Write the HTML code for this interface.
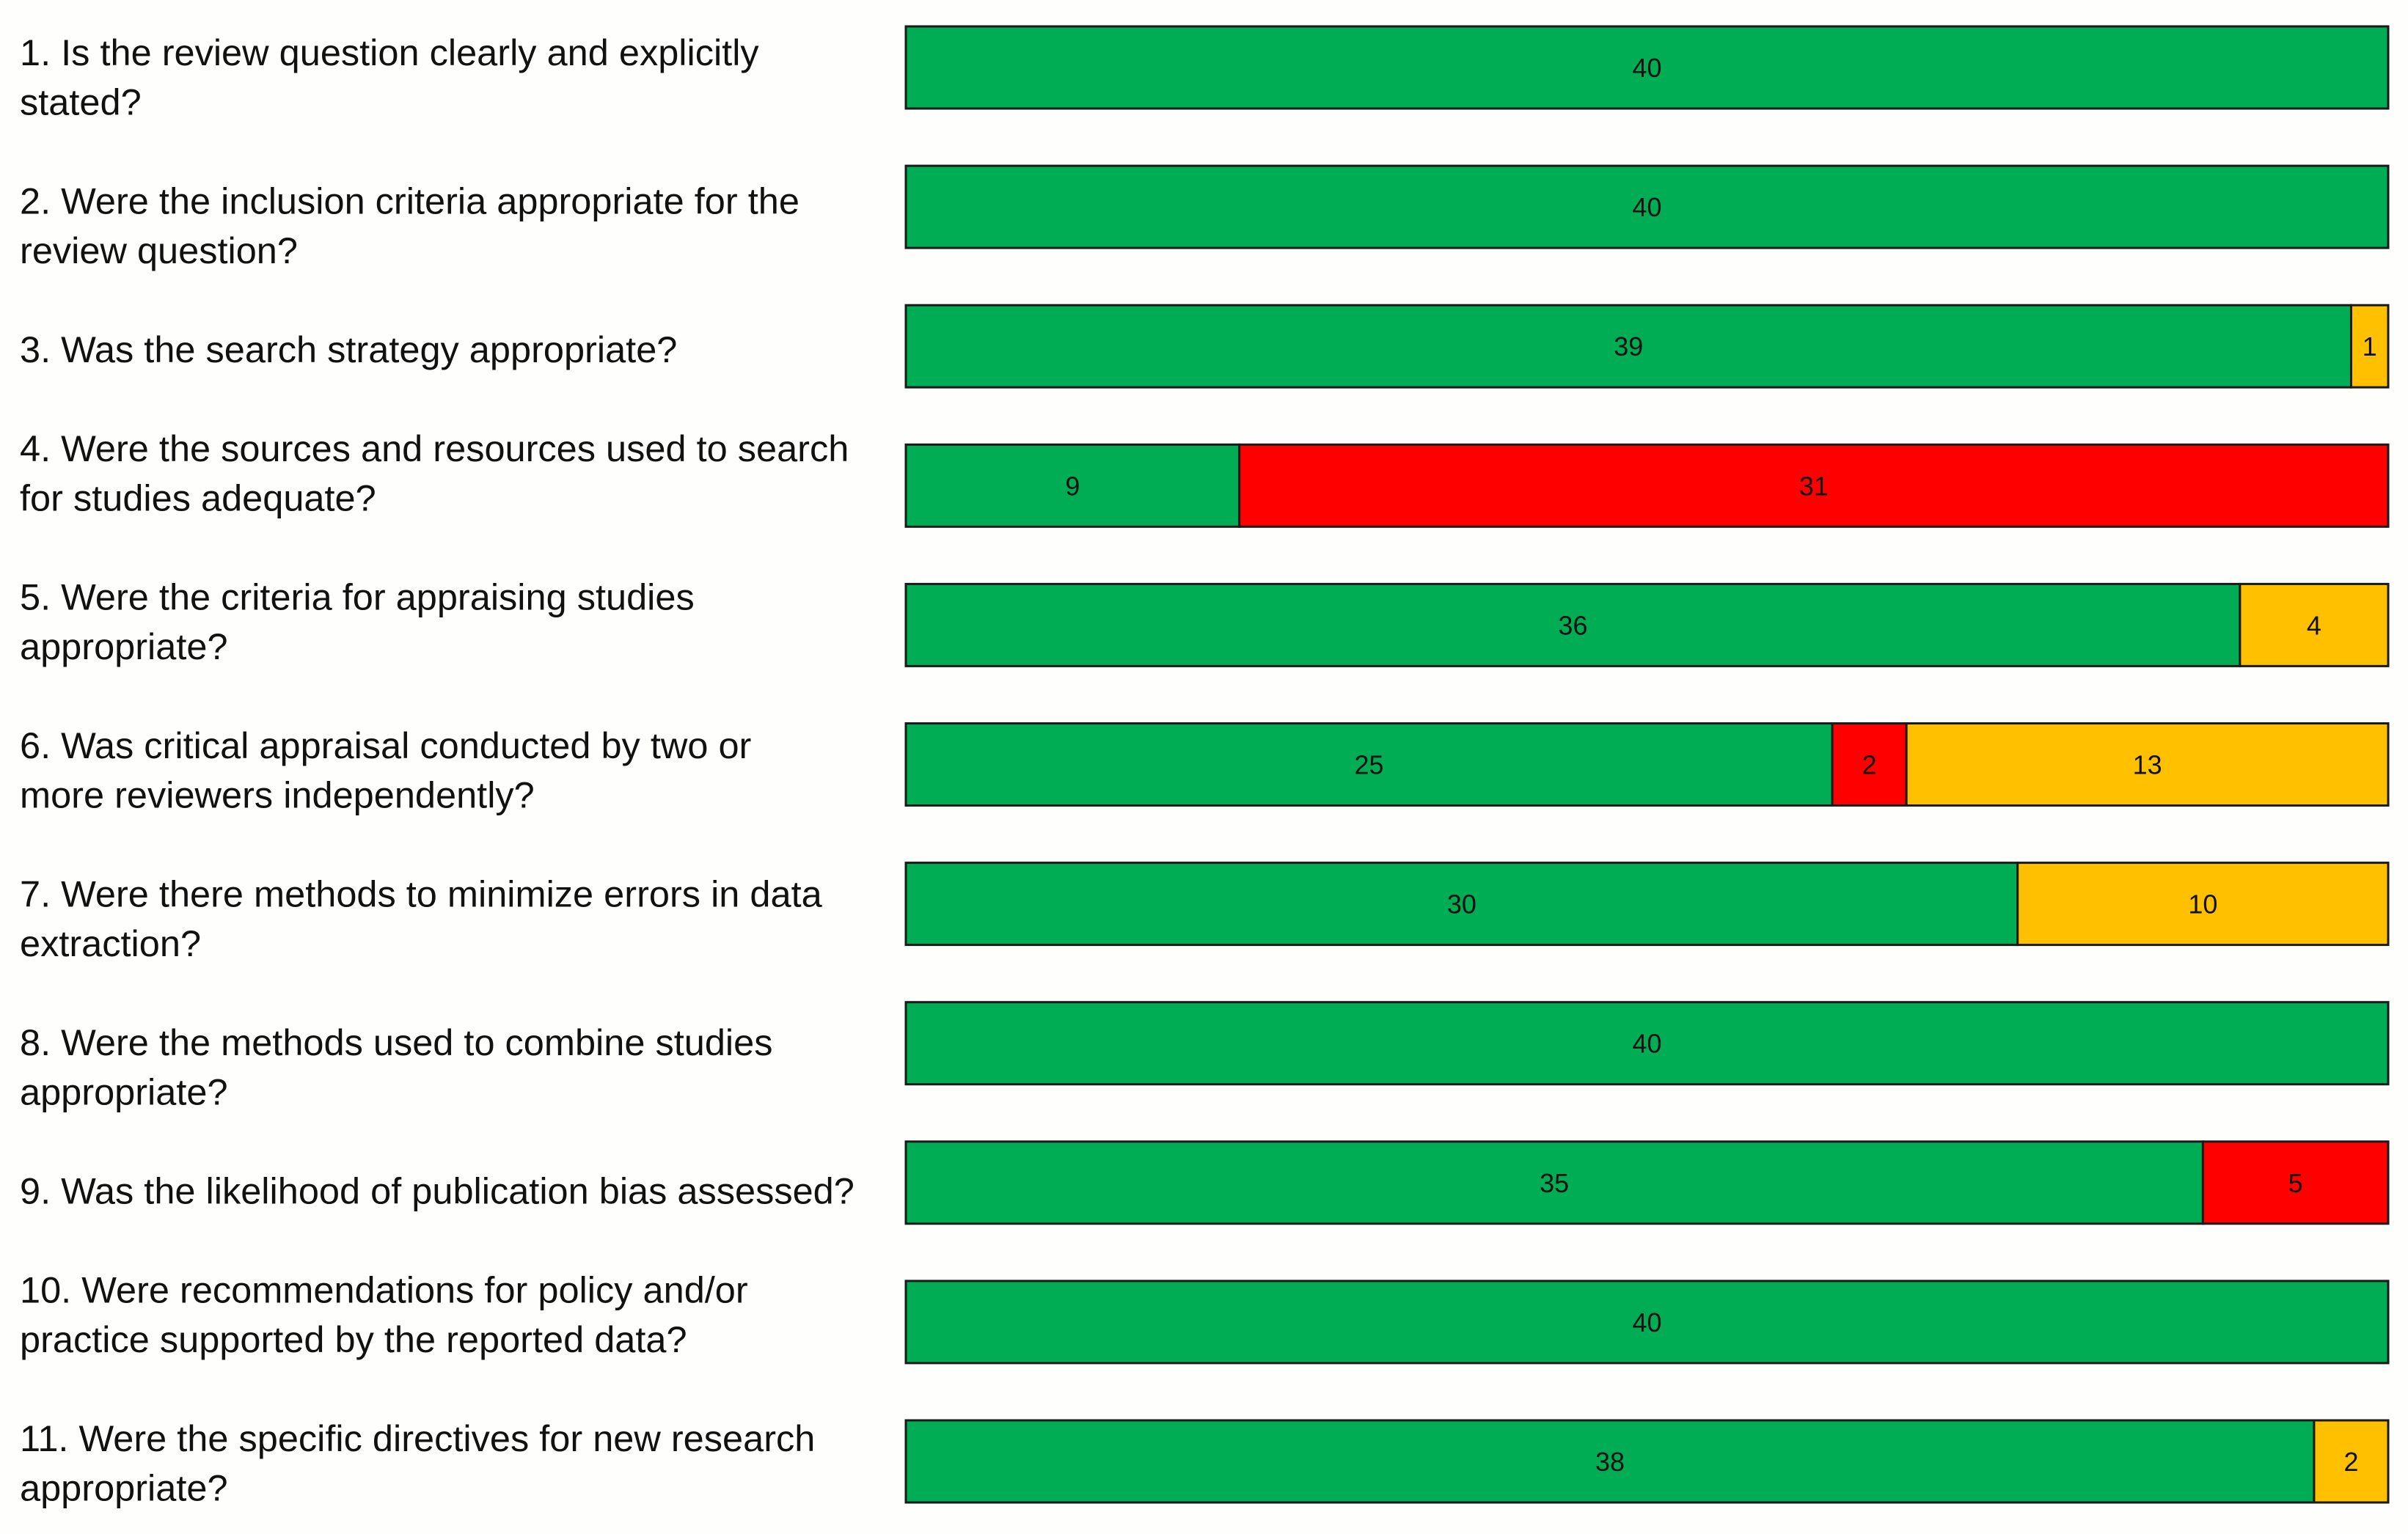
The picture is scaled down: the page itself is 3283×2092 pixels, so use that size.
<!DOCTYPE html>
<html><head><meta charset="utf-8"><style>
html,body{margin:0;padding:0;background:#fefefd;}
svg{display:block;}
</style></head><body>
<svg id="chart" width="3283" height="2092" xmlns="http://www.w3.org/2000/svg"></svg>
<script>
const questions = [
 ["1. Is the review question clearly and explicitly","stated?"],
 ["2. Were the inclusion criteria appropriate for the","review question?"],
 ["3. Was the search strategy appropriate?"],
 ["4. Were the sources and resources used to search","for studies adequate?"],
 ["5. Were the criteria for appraising studies","appropriate?"],
 ["6. Was critical appraisal conducted by two or","more reviewers independently?"],
 ["7. Were there methods to minimize errors in data","extraction?"],
 ["8. Were the methods used to combine studies","appropriate?"],
 ["9. Was the likelihood of publication bias assessed?"],
 ["10. Were recommendations for policy and/or","practice supported by the reported data?"],
 ["11. Were the specific directives for new research","appropriate?"]
];
const yesVals = [40,40,39,9,36,25,30,40,35,40,38];
const noVals = [0,0,0,31,0,2,0,0,5,0,0];
const unclearVals = [0,0,1,0,4,13,10,0,0,0,2];
const total = 40;

const svg = document.getElementById('chart');
const NS = 'http://www.w3.org/2000/svg';
const x0 = 1235, x1 = 3256, top0 = 36, pitch = 190.1, bh = 112;
const xs = v => v / total * (x1 - x0);
function mk(tag, attrs){const e=document.createElementNS(NS,tag);for(const k in attrs)e.setAttribute(k,attrs[k]);svg.appendChild(e);return e;}
const series = [[yesVals,'#00ad54','yes'],[noVals,'#ff0000','no'],[unclearVals,'#ffc000','unclear']];
const lineH = 67.5;
let textY = 89;
questions.forEach((q,i)=>{
  const y = top0 + i*pitch;
  const cy = y + bh/2;
  q.forEach((ln,j)=>{
    const t = mk('text',{x:27,y:textY+j*lineH,'font-family':'Liberation Sans, sans-serif','font-size':50.5,fill:'#111'});
    
    
    t.textContent = ln;
  });
  textY += (q.length+1)*lineH;
  let acc = 0;
  series.forEach(([arr,col,nm])=>{
    const v = arr[i];
    if(!v) return;
    const rx = x0 + xs(acc), w = xs(v);
    const r = mk('rect',{x:rx,y:y,width:w,height:bh,fill:col,stroke:'#1a1a1a','stroke-width':3});
    
    
    const t = mk('text',{x:rx+w/2,y:cy+13,'text-anchor':'middle','font-family':'Liberation Sans, sans-serif','font-size':36,fill:'#111'});
    
    
    t.textContent = v;
    acc += v;
  });
});
</script>
</body></html>
